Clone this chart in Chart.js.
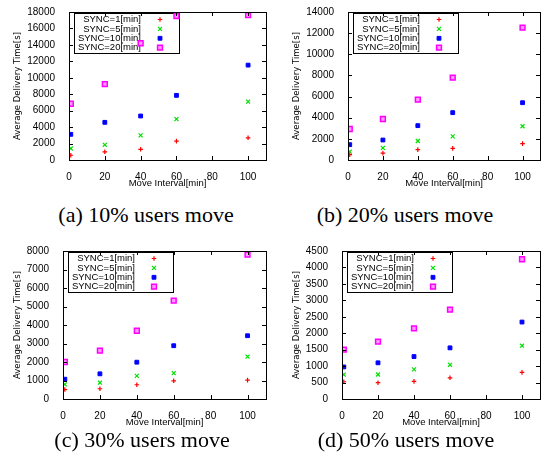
<!DOCTYPE html>
<html>
<head>
<meta charset="utf-8">
<script src="https://cdn.jsdelivr.net/npm/chart.js@4/dist/chart.umd.min.js"></script>
<style>
  body { margin: 0; background: #fff; }
  #wrap { position: relative; width: 547px; height: 464px; overflow: hidden; }
  canvas { position: absolute; }
  .cap { position: absolute; width: 240px; text-align: center; font: 22px "Liberation Serif", serif; color: #000; line-height: 24px; }
</style>
</head>
<body>
<div id="wrap">
  <canvas id="c1" width="273" height="195" style="left:0;top:0"></canvas>
  <canvas id="c2" width="268" height="195" style="left:279px;top:0"></canvas>
  <canvas id="c3" width="273" height="195" style="left:0;top:239px"></canvas>
  <canvas id="c4" width="268" height="195" style="left:279px;top:239px"></canvas>
  <div class="cap" style="left:26px;top:203px">(a) 10% users move</div>
  <div class="cap" style="left:285px;top:203px">(b) 20% users move</div>
  <div class="cap" style="left:22px;top:428px">(c) 30% users move</div>
  <div class="cap" style="left:286px;top:428px">(d) 50% users move</div>
</div>
<script>
'use strict';
// =============== data ===============
const moveInterval = [1, 20, 40, 60, 100];
const syncLabels = ['SYNC=1[min]', 'SYNC=5[min]', 'SYNC=10[min]', 'SYNC=20[min]'];
const xTickValues = [0, 20, 40, 60, 80, 100];

// (a) 10% users move
const move10Sync1 = [580, 1000, 1300, 2300, 2700];
const move10Sync5 = [1400, 1850, 3000, 4980, 7100];
const move10Sync10 = [3120, 4580, 5350, 7860, 11540];
const move10Sync20 = [6840, 9230, 14200, 17500, 17620];

// (b) 20% users move
const move20Sync1 = [500, 650, 980, 1100, 1550];
const move20Sync5 = [790, 1140, 1800, 2240, 3190];
const move20Sync10 = [1450, 1890, 3250, 4480, 5420];
const move20Sync20 = [2930, 3880, 5710, 7790, 12520];

// (c) 30% users move
const move30Sync1 = [510, 555, 770, 985, 1020];
const move30Sync5 = [790, 880, 1250, 1400, 2290];
const move30Sync10 = [1070, 1360, 1990, 2880, 3420];
const move30Sync20 = [2000, 2610, 3690, 5320, 7800];

// (d) 50% users move
const move50Sync1 = [525, 495, 535, 645, 810];
const move50Sync5 = [740, 745, 900, 1040, 1620];
const move50Sync10 = [975, 1100, 1290, 1555, 2340];
const move50Sync20 = [1500, 1745, 2150, 2715, 4250];

const yMax = [18000, 14000, 8000, 4500];
const yStep = [2000, 2000, 1000, 500];
const xMax = 110;

// =============== styles ===============
const seriesStyle = [
    { pointStyle: 'cross', radius: 2.3, borderColor: '#ff0000', backgroundColor: '#ff0000', borderWidth: 1.2 },
    { pointStyle: 'crossRot', radius: 2.8, borderColor: '#00e000', backgroundColor: '#00e000', borderWidth: 1.2 },
    { pointStyle: 'rect', radius: 2.7, borderColor: '#0000ff', backgroundColor: '#0000ff', borderWidth: 1 },
    { pointStyle: 'rect', radius: 3.4, borderColor: '#ff00ff', backgroundColor: '#ff9cff', borderWidth: 1.5 }
];

const tickFont = { family: '"Liberation Sans", Arial, sans-serif', size: 10 };

// frame, inward ticks on all four sides, gnuplot-like legend
const gnuFrame = {
    id: 'gnuFrame',
    beforeDatasetsDraw(chart) {
        const ctx = chart.ctx;
        const a = chart.chartArea;
        ctx.save();
        // legend box
        const bx = a.left + 5, by = a.top + 1;
        ctx.strokeStyle = '#000';
        ctx.lineWidth = 1;
        ctx.strokeRect(Math.round(bx) + 0.5, Math.round(by) + 0.5, 105, 40);
        ctx.font = '9.5px "Liberation Sans", Arial, sans-serif';
        ctx.fillStyle = '#000';
        ctx.textAlign = 'right';
        ctx.textBaseline = 'middle';
        chart.data.datasets.forEach((ds, i) => {
            const ty = by + 6.5 + 9.4 * i;
            ctx.fillText(ds.label, bx + 67, ty);
            ctx.strokeStyle = ds.borderColor;
            ctx.fillStyle = ds.backgroundColor;
            ctx.lineWidth = ds.borderWidth;
            Chart.helpers.drawPoint(ctx, { pointStyle: ds.pointStyle, radius: ds.pointRadius, rotation: 0, borderWidth: ds.borderWidth }, bx + 86, ty);
            ctx.fillStyle = '#000';
        });
        ctx.restore();
    },
    afterDraw(chart) {
        const ctx = chart.ctx;
        const a = chart.chartArea;
        const xs = chart.scales.x, ys = chart.scales.y;
        ctx.save();
        ctx.strokeStyle = '#000';
        ctx.lineWidth = 1;
        ctx.beginPath();
        xs.ticks.forEach(t => {
            const px = Math.round(xs.getPixelForValue(t.value)) + 0.5;
            ctx.moveTo(px, a.bottom); ctx.lineTo(px, a.bottom - 4);
            ctx.moveTo(px, a.top); ctx.lineTo(px, a.top + 4);
        });
        ys.ticks.forEach(t => {
            const py = Math.round(ys.getPixelForValue(t.value)) + 0.5;
            ctx.moveTo(a.left, py); ctx.lineTo(a.left + 4, py);
            ctx.moveTo(a.right, py); ctx.lineTo(a.right - 4, py);
        });
        ctx.stroke();
        ctx.strokeRect(Math.round(a.left) + 0.5, Math.round(a.top) + 0.5, Math.round(a.right - a.left), Math.round(a.bottom - a.top));
        ctx.restore();
    }
};

function makePanel(id, series, i, axisWidth) {
    const datasets = series.map((vals, k) => ({
        label: syncLabels[k],
        data: moveInterval.map((x, j) => ({ x: x, y: vals[j] })),
        showLine: false,
        pointStyle: seriesStyle[k].pointStyle,
        pointRadius: seriesStyle[k].radius,
        borderColor: seriesStyle[k].borderColor,
        backgroundColor: seriesStyle[k].backgroundColor,
        borderWidth: seriesStyle[k].borderWidth
    }));

    return new Chart(document.getElementById(id), {
        type: 'scatter',
        data: { datasets: datasets },
        options: {
            responsive: false,
            animation: false,
            layout: { padding: { top: 12, right: 7, left: 0, bottom: 0 } },
            plugins: { legend: { display: false }, tooltip: { enabled: false } },
            scales: {
                x: {
                    type: 'linear',
                    min: 0,
                    max: xMax,
                    grid: { display: false },
                    border: { display: false },
                    afterBuildTicks: s => { s.ticks = xTickValues.map(v => ({ value: v })); },
                    afterFit: s => { s.height = 35; },
                    ticks: { font: tickFont, color: '#000', padding: 3, maxRotation: 0, autoSkip: false, callback: v => String(v) },
                    title: {
                        display: true, text: 'Move Interval[min]', color: '#000',
                        font: { family: '"Liberation Sans", Arial, sans-serif', size: 9.5 },
                        padding: { top: 0, bottom: 6 }
                    }
                },
                y: {
                    min: 0,
                    max: yMax[i],
                    grid: { display: false },
                    border: { display: false },
                    afterFit: s => { s.width = axisWidth; },
                    ticks: { stepSize: yStep[i], font: tickFont, color: '#000', padding: 6, callback: v => String(v) },
                    title: {
                        display: true, text: 'Average Delivery Time[s]', color: '#000',
                        font: { family: '"Liberation Sans Narrow", "DejaVu Sans Condensed", "Liberation Sans", sans-serif', size: 9.5 },
                        padding: { top: 12, bottom: 0 }
                    }
                }
            }
        },
        plugins: [gnuFrame]
    });
}

makePanel('c1', [move10Sync1, move10Sync5, move10Sync10, move10Sync20], 0, 69);
makePanel('c2', [move20Sync1, move20Sync5, move20Sync10, move20Sync20], 1, 69);
makePanel('c3', [move30Sync1, move30Sync5, move30Sync10, move30Sync20], 2, 63);
makePanel('c4', [move50Sync1, move50Sync5, move50Sync10, move50Sync20], 3, 63);
</script>
</body>
</html>
